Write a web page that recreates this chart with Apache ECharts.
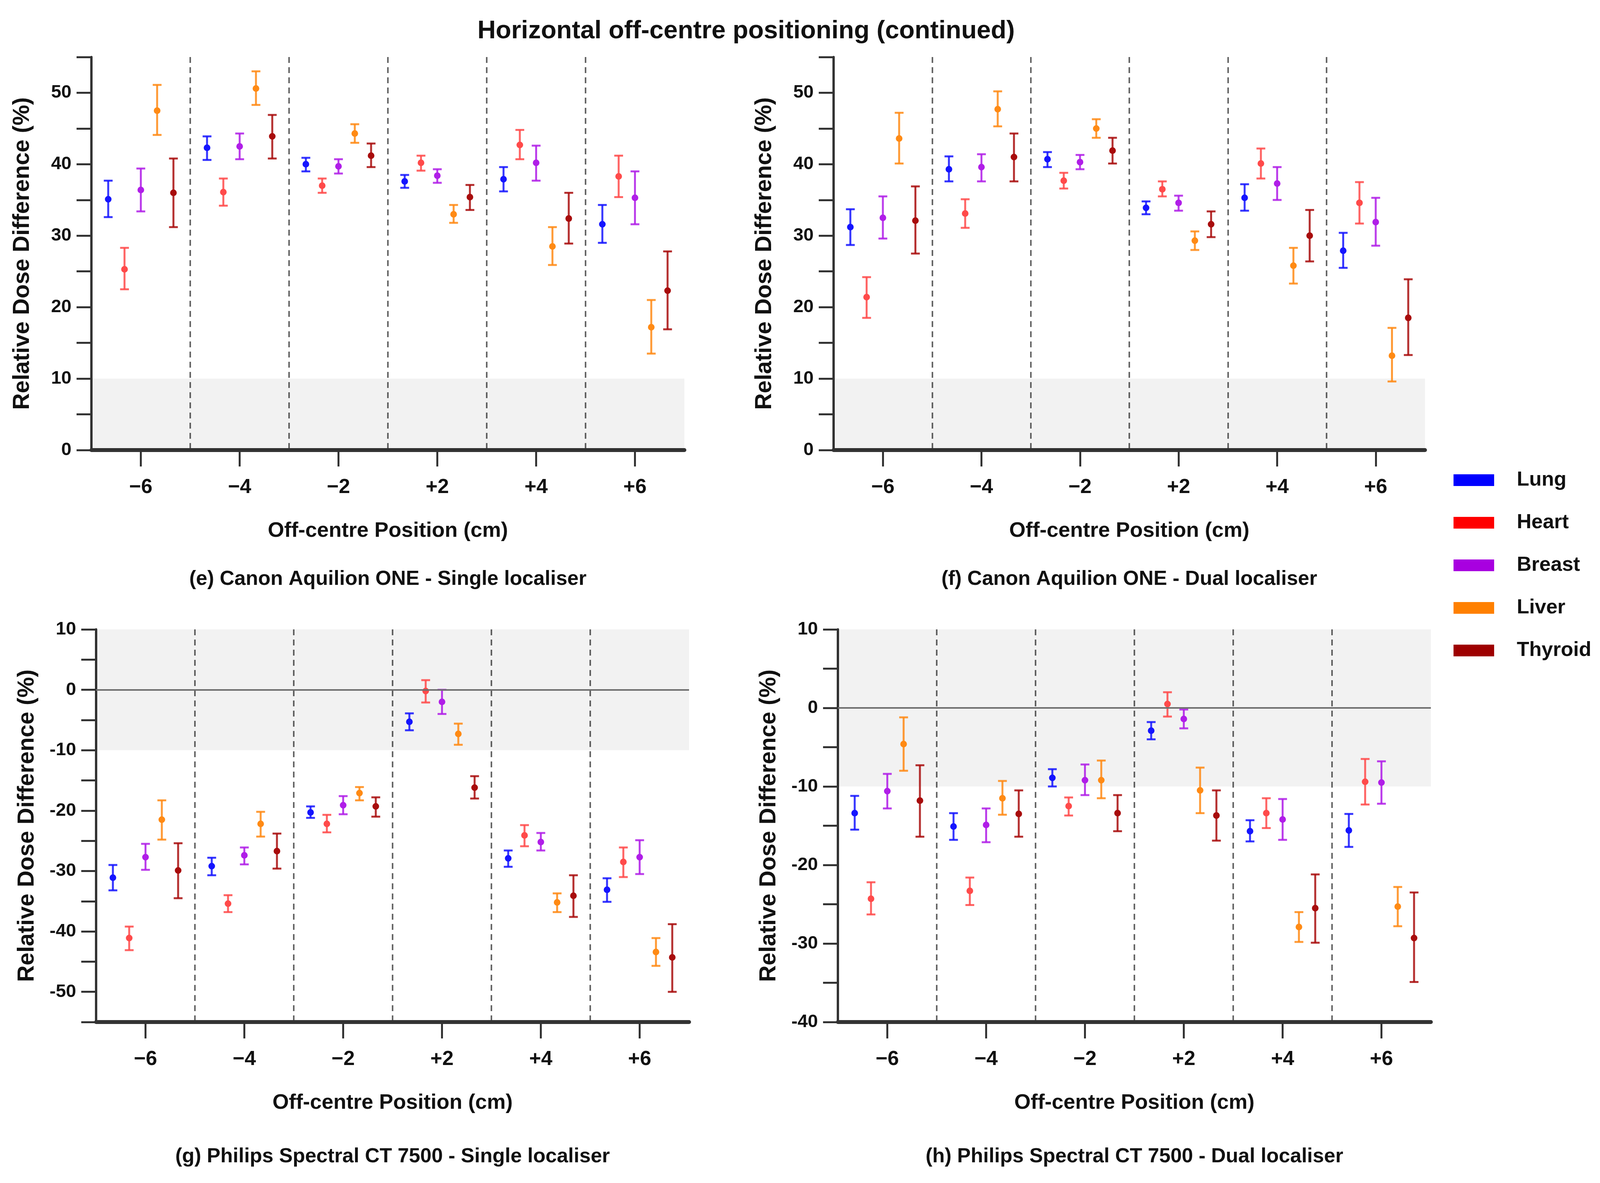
<!DOCTYPE html>
<html>
<head>
<meta charset="utf-8">
<script src="https://cdn.jsdelivr.net/npm/echarts@6/dist/echarts.min.js"></script>
<style>
  html, body { margin: 0; padding: 0; background: #fff; overflow: hidden; }
  #chart { width: 100vw; height: 3028px; }
</style>
</head>
<body>
<div id="chart"></div>
<script>
// categories and series
const positions = ['−6', '−4', '−2', '+2', '+4', '+6'];
const organs = ['Lung', 'Heart', 'Breast', 'Liver', 'Thyroid'];
const organColors = ['#0000ff', '#ff0000', '#a800e0', '#ff8000', '#9e0000'];
const barColors = ['#1414ff', '#ff4a4a', '#b01ee8', '#ff8a14', '#a80c0c'];

// each entry: [mean, lower, upper] per position -6 .. +6
// (e) Canon Aquilion ONE - Single localiser
const eLung    = [[35.1, 32.6, 37.7], [42.3, 40.6, 43.9], [40.0, 39.0, 40.9], [37.6, 36.7, 38.5], [37.9, 36.2, 39.6], [31.6, 29.0, 34.3]];
const eHeart   = [[25.3, 22.5, 28.3], [36.1, 34.2, 38.0], [37.0, 36.0, 38.0], [40.2, 39.1, 41.2], [42.7, 40.7, 44.8], [38.3, 35.4, 41.2]];
const eBreast  = [[36.4, 33.4, 39.4], [42.5, 40.7, 44.3], [39.7, 38.7, 40.7], [38.4, 37.4, 39.3], [40.2, 37.7, 42.6], [35.3, 31.6, 39.0]];
const eLiver   = [[47.5, 44.1, 51.1], [50.6, 48.3, 53.0], [44.3, 43.0, 45.6], [33.0, 31.8, 34.3], [28.5, 25.9, 31.2], [17.2, 13.5, 21.0]];
const eThyroid = [[36.0, 31.2, 40.8], [43.9, 40.8, 46.9], [41.2, 39.6, 42.9], [35.4, 33.6, 37.1], [32.4, 28.9, 36.0], [22.3, 16.9, 27.8]];

// (f) Canon Aquilion ONE - Dual localiser
const fLung    = [[31.2, 28.7, 33.7], [39.3, 37.6, 41.1], [40.7, 39.6, 41.7], [33.9, 33.0, 34.8], [35.3, 33.5, 37.2], [27.9, 25.5, 30.4]];
const fHeart   = [[21.4, 18.5, 24.2], [33.1, 31.1, 35.1], [37.7, 36.6, 38.8], [36.5, 35.5, 37.6], [40.1, 38.0, 42.2], [34.6, 31.7, 37.5]];
const fBreast  = [[32.5, 29.6, 35.5], [39.6, 37.6, 41.4], [40.3, 39.3, 41.3], [34.6, 33.5, 35.6], [37.3, 35.0, 39.6], [31.9, 28.6, 35.3]];
const fLiver   = [[43.6, 40.1, 47.2], [47.7, 45.3, 50.2], [45.0, 43.7, 46.3], [29.3, 28.0, 30.6], [25.8, 23.3, 28.3], [13.2, 9.6, 17.1]];
const fThyroid = [[32.1, 27.5, 36.9], [41.0, 37.6, 44.3], [41.9, 40.1, 43.7], [31.6, 29.8, 33.4], [30.0, 26.4, 33.6], [18.5, 13.3, 23.9]];

// (g) Philips Spectral CT 7500 - Single localiser
const gLung    = [[-31.1, -33.2, -29.0], [-29.2, -30.7, -27.8], [-20.3, -21.2, -19.3], [-5.3, -6.7, -3.9], [-27.9, -29.3, -26.6], [-33.1, -35.1, -31.2]];
const gHeart   = [[-41.1, -43.1, -39.2], [-35.4, -36.8, -34.0], [-22.2, -23.6, -20.7], [-0.2, -2.1, 1.6], [-24.1, -25.9, -22.4], [-28.5, -31.0, -26.1]];
const gBreast  = [[-27.7, -29.8, -25.5], [-27.4, -28.9, -26.1], [-19.1, -20.6, -17.6], [-2.0, -4.0, 0.0], [-25.2, -26.6, -23.7], [-27.7, -30.5, -24.9]];
const gLiver   = [[-21.5, -24.8, -18.3], [-22.2, -24.3, -20.2], [-17.1, -18.3, -16.1], [-7.3, -9.1, -5.6], [-35.2, -36.8, -33.7], [-43.4, -45.7, -41.1]];
const gThyroid = [[-29.9, -34.5, -25.4], [-26.7, -29.6, -23.8], [-19.3, -21.0, -17.8], [-16.2, -18.0, -14.3], [-34.1, -37.6, -30.7], [-44.3, -50.0, -38.8]];

// (h) Philips Spectral CT 7500 - Dual localiser
const hLung    = [[-13.4, -15.5, -11.2], [-15.1, -16.8, -13.4], [-8.9, -10.0, -7.8], [-2.9, -4.0, -1.8], [-15.7, -17.0, -14.3], [-15.6, -17.7, -13.5]];
const hHeart   = [[-24.3, -26.3, -22.2], [-23.3, -25.1, -21.6], [-12.5, -13.7, -11.4], [0.5, -1.1, 2.0], [-13.4, -15.3, -11.5], [-9.4, -12.3, -6.5]];
const hBreast  = [[-10.6, -12.8, -8.4], [-14.9, -17.1, -12.8], [-9.2, -11.1, -7.2], [-1.4, -2.6, -0.2], [-14.2, -16.8, -11.6], [-9.5, -12.2, -6.8]];
const hLiver   = [[-4.6, -8.0, -1.2], [-11.5, -13.6, -9.3], [-9.2, -11.5, -6.7], [-10.5, -13.4, -7.6], [-27.9, -29.8, -26.0], [-25.3, -27.8, -22.8]];
const hThyroid = [[-11.8, -16.4, -7.3], [-13.5, -16.4, -10.5], [-13.4, -15.7, -11.1], [-13.7, -16.9, -10.5], [-25.5, -29.9, -21.2], [-29.3, -34.9, -23.5]];

const panelTitles = [
  '(e) Canon Aquilion ONE - Single localiser',
  '(f) Canon Aquilion ONE - Dual localiser',
  '(g) Philips Spectral CT 7500 - Single localiser',
  '(h) Philips Spectral CT 7500 - Dual localiser'
];
const panelData = [
  [eLung, eHeart, eBreast, eLiver, eThyroid],
  [fLung, fHeart, fBreast, fLiver, fThyroid],
  [gLung, gHeart, gBreast, gLiver, gThyroid],
  [hLung, hHeart, hBreast, hLiver, hThyroid]
];
const yRanges = [[0, 55], [0, 55], [-55, 10], [-40, 10]];
const bands = [[0, 10], [0, 10], [-10, 10], [-10, 10]];

const FONT = '"Liberation Sans", Arial, sans-serif';
const AXIS_COLOR = '#333';

// the browser may be narrower than the 4349px design width: squeeze x positions to fit
const sx = Math.min(1, (window.innerWidth || 4349) / 4349);
const X = v => Math.round(v * sx);
const F = n => Math.round(n * (1 + sx) / 2);

const grids = [
  { left: X(248), top: 146, width: X(1612), height: 1006 },
  { left: X(2266), top: 146, width: X(1608), height: 1006 },
  { left: X(261), top: 1611, width: X(1612), height: 1005 },
  { left: X(2278), top: 1611, width: X(1612), height: 1005 }
];
const subtitleTops = [1457, 1457, 2935, 2935];

function errorBarRenderer(slot, color) {
  return function (params, api) {
    const cat = api.value(0);
    const band = api.size([1, 0])[0];
    const mid = api.coord([cat, api.value(1)]);
    const lo = api.coord([cat, api.value(2)])[1];
    const hi = api.coord([cat, api.value(3)])[1];
    const cx = mid[0] + (slot - 2) * band * 0.165;
    const cap = 12 * sx;
    const lineStyle = { stroke: color, lineWidth: 5, opacity: 0.85 };
    return {
      type: 'group',
      children: [
        { type: 'line', shape: { x1: cx, y1: lo, x2: cx, y2: hi }, style: lineStyle },
        { type: 'line', shape: { x1: cx - cap, y1: hi, x2: cx + cap, y2: hi }, style: lineStyle },
        { type: 'line', shape: { x1: cx - cap, y1: lo, x2: cx + cap, y2: lo }, style: lineStyle },
        { type: 'circle', shape: { cx: cx, cy: mid[1], r: 8.5 }, style: { fill: color } }
      ]
    };
  };
}

const xAxes = [], yAxes = [], series = [];
grids.forEach((g, i) => {
  xAxes.push({
    type: 'category',
    gridIndex: i,
    data: positions,
    name: 'Off-centre Position (cm)',
    nameLocation: 'middle',
    nameGap: 180,
    nameTextStyle: { fontFamily: FONT, fontWeight: 'bold', fontSize: F(56), color: '#111' },
    axisLine: { show: true, onZero: false, lineStyle: { color: AXIS_COLOR, width: 10 } },
    axisTick: { show: true, alignWithLabel: true, length: 42, lineStyle: { color: AXIS_COLOR, width: 5 } },
    axisLabel: { fontFamily: FONT, fontWeight: 'bold', fontSize: F(54), color: '#111', margin: 70 },
    splitLine: {
      show: true, showMinLine: false, showMaxLine: false,
      lineStyle: { color: '#666', width: 4, type: [15, 11] }
    }
  });
  yAxes.push({
    type: 'value',
    gridIndex: i,
    min: yRanges[i][0],
    max: yRanges[i][1],
    interval: 5,
    name: 'Relative Dose Difference (%)',
    nameLocation: 'middle',
    nameGap: X(156),
    nameTextStyle: { fontFamily: FONT, fontWeight: 'bold', fontSize: 59, color: '#111' },
    axisLine: { show: true, onZero: false, lineStyle: { color: AXIS_COLOR, width: 6 } },
    axisTick: { show: true, length: X(40), lineStyle: { color: AXIS_COLOR, width: 5 } },
    axisLabel: {
      fontFamily: FONT, fontWeight: 'bold', fontSize: F(48), color: '#111', margin: X(54),
      formatter: v => (v % 10 === 0 ? String(v) : '')
    },
    splitLine: { show: false }
  });

  // shaded tolerance band (translucent so the dashed separators show through) and zero line
  const bg = {
    type: 'line',
    xAxisIndex: i,
    yAxisIndex: i,
    data: [],
    silent: true,
    markArea: {
      silent: true,
      itemStyle: { color: 'rgba(0,0,0,0.05)' },
      data: [[{ yAxis: bands[i][0] }, { yAxis: bands[i][1] }]]
    }
  };
  if (yRanges[i][0] < 0) {
    bg.markLine = {
      silent: true,
      symbol: 'none',
      label: { show: false },
      lineStyle: { color: '#6e6e6e', width: 4, type: 'solid' },
      data: [{ yAxis: 0 }]
    };
  }
  series.push(bg);

  panelData[i].forEach((vals, k) => {
    series.push({
      type: 'custom',
      name: organs[k],
      xAxisIndex: i,
      yAxisIndex: i,
      itemStyle: { color: organColors[k] },
      renderItem: errorBarRenderer(k, barColors[k]),
      encode: { x: 0, y: 1 },
      data: vals.map((v, c) => [c, v[0], v[1], v[2]])
    });
  });
});

const titles = [{
  text: 'Horizontal off-centre positioning (continued)',
  left: X(2028), top: 48, textAlign: 'center', padding: 0,
  textStyle: { fontFamily: FONT, fontWeight: 'bold', fontSize: F(67), color: '#111' }
}];
grids.forEach((g, i) => {
  titles.push({
    text: panelTitles[i],
    left: g.left + g.width / 2, top: subtitleTops[i], textAlign: 'center', padding: 0,
    textStyle: { fontFamily: FONT, fontWeight: 'bold', fontSize: F(54), color: '#111' }
  });
});

const chart = echarts.init(document.getElementById('chart'));
chart.setOption({
  animation: false,
  backgroundColor: '#fff',
  title: titles,
  legend: {
    data: organs,
    orient: 'vertical',
    left: X(3945),
    top: 1198,
    itemWidth: X(110),
    itemHeight: 30,
    itemGap: 57,
    icon: 'rect',
    selectedMode: false,
    formatter: name => '{gap|}' + name,
    textStyle: {
      fontFamily: FONT, fontWeight: 'bold', fontSize: F(54), color: '#111',
      rich: { gap: { width: X(56) } }
    }
  },
  grid: grids,
  xAxis: xAxes,
  yAxis: yAxes,
  series: series
});
</script>
</body>
</html>
